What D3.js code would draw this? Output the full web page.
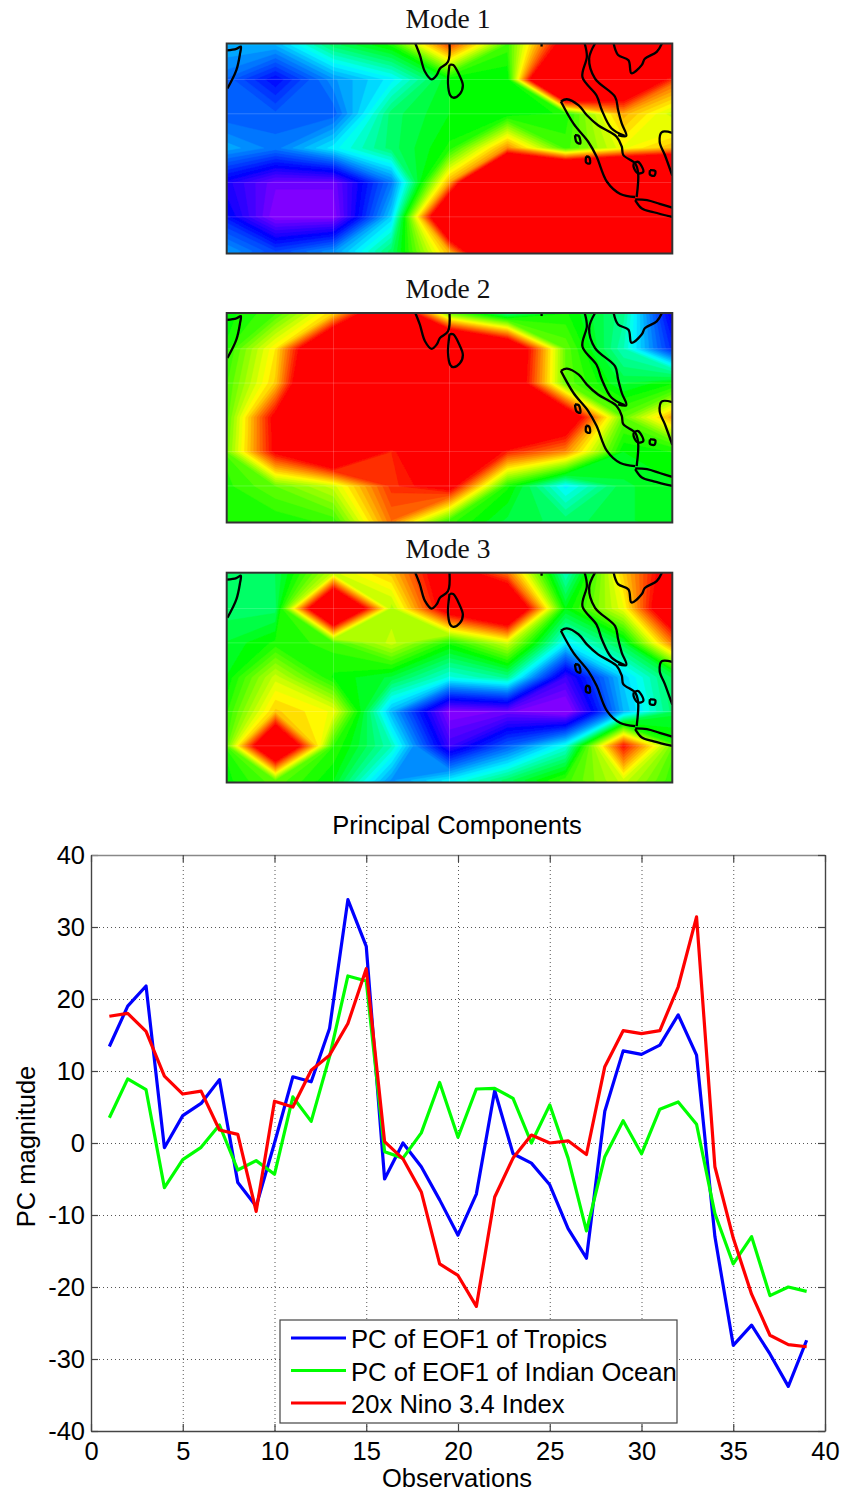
<!DOCTYPE html>
<html>
<head>
<meta charset="utf-8">
<script src="https://cdn.jsdelivr.net/npm/d3@7/dist/d3.min.js"></script>
<style>
    html, body { margin: 0; padding: 0; background: #fff; }
    svg { display: block; }
    .tick-text text, .axis-label { font-family: "Liberation Sans", sans-serif; fill: #000; }
</style>
</head>
<body>
<svg id="chart" width="841" height="1493"></svg>
<script>
// EOF maps: 9 longitudes x 7 latitudes
const gridLons = [48.75, 56.56, 64.38, 72.19, 80, 87.81, 95.63, 103.44, 111.25];
const gridLats = [12.3, 7.8, 3.3, -1.2, -5.7, -10.2, -14.7];

const mode1 = [
    [-0.4, -0.4, -0.1, 0.05, 0.65, 0.1, 0.9, 1.2, 1.2],
    [-0.5, -0.72, -0.45, -0.3, 0, 0, 2, 1.2, 0.6],
    [-0.55, -0.55, -0.55, -0.1, 0, 0, 0.05, 0.5, 0.25],
    [-0.4, -0.5, -0.3, -0.1, 0.05, 0.55, 0.1, 0.35, 0.5],
    [-0.75, -0.95, -0.95, -0.5, 0.51, 2, 2, 2, 2],
    [-0.65, -1, -1, -0.35, 1.3, 2, 2, 2, 2],
    [-0.4, -0.6, -0.45, -0.1, 0.5, 1.5, 1.5, 1.5, 1.5]
];
const mode2 = [
    [0, 0.12, 0.45, 1.2, 0.2, -0.1, 0.05, -0.15, -0.9],
    [0, 0.4, 1.3, 1.5, 1.5, 1.1, 0.15, -0.2, -0.75],
    [0.05, 0.45, 1.5, 1.5, 1.5, 1.05, 0.15, -0.05, 0.05],
    [0, 0.82, 1.5, 1.5, 1.5, 1.5, 1, 0.15, 0.58],
    [0.05, 0.8, 1.2, 0.72, 1.2, 0.72, 0.55, 0, 0.05],
    [0.05, 0.16, 0.3, 0.7, 0.85, 0.05, -0.3, -0.05, 0],
    [0.05, 0.05, 0.1, 0.6, 0.1, -0.05, -0.1, -0.05, 0]
];
const mode3 = [
    [-0.1, -0.08, 0.3, 0.45, 0.95, 0.6, -0.2, 0.45, 1],
    [-0.1, -0.1, 1.4, 0.25, 0.9, 1.2, 0, 0.35, 1.2],
    [-0.05, 0.05, 0.1, 0.3, 0.05, 0.3, -0.3, -0.05, 0.7],
    [-0.05, 0.3, 0.03, -0.05, -0.25, -0.15, -0.85, -0.35, -0.02],
    [0, 0.45, 0.35, -0.4, -1, -0.95, -1.05, -0.4, -0.05],
    [-0.08, 1.26, 0.08, -0.2, -0.85, -0.55, -0.25, 0.75, 0.05],
    [0, 0.15, 0, -0.45, -0.3, -0.1, 0.1, 0.3, 0.05]
];
const modeNames = ["Mode 1", "Mode 2", "Mode 3"];

// coastlines as [lon, lat]
const coastLines = [
    [[50, 11.6], [51.3, 11.8], [51.9, 12.1], [51.8, 11.2], [51.3, 9], [50.1, 6.6]],
    [[75.4, 12.5], [76, 11], [76.7, 8.8], [77.6, 7.8], [78.3, 8.4], [78.7, 9.2], [79.8, 10.1], [80, 12.5]],
    [[80, 9.7], [80.5, 9.7], [81.3, 8.4], [81.8, 7], [81.4, 5.9], [80.5, 5.4], [80.1, 5.7], [79.8, 7.3], [80, 9.7]],
    [[92.4, 12.5], [92.4, 12.1]],
    [[98.2, 12.5], [98.5, 10.8], [97.9, 8.1], [99.8, 5.7], [100.5, 3.8], [101.8, 1.4], [103.6, 0.4]],
    [[99.6, 12.5], [98.8, 10.5], [99.6, 7.9], [102.3, 5.5], [102.7, 3.8], [103.2, 2], [103.8, 0.4], [102.7, 0.5]],
    [[102.1, 12.5], [102.7, 11], [104.1, 10.3], [104.5, 8.6], [105.9, 9.7], [106.3, 10.5], [107.9, 11.4], [108.6, 12.5]],
    [[95, 4.9], [95.8, 5.2], [97.4, 4.4], [98.5, 3.1], [100, 1.8], [101.6, 0.9], [102.5, 0.3], [103.2, -1], [103.4, -2.1], [105, -3.2], [105.4, -4.5], [105.2, -7.6]],
    [[105, -7.6], [103, -7.2], [101.2, -5.6], [99.8, -2.3], [98.7, -0.4], [96.7, 2], [95, 4.9]],
    [[104.8, -3.2], [105.4, -3], [106.1, -4.3], [105.4, -4.5], [104.8, -3.7], [104.8, -3.2]],
    [[107, -4.1], [107.7, -4.2], [107.6, -4.8], [107, -4.7], [107, -4.1]],
    [[105, -7.9], [106.6, -8], [108.3, -8.5], [110, -9]],
    [[105, -8], [105.9, -9.1], [107.5, -9.6], [110, -10.2]],
    [[110, 0.8], [108.6, 0.9], [108.3, -0.4], [109, -2.1], [110, -4.8]],
    [[96.9, 0.5], [97.4, 0.4], [97.6, -0.6], [97.1, -0.4], [96.9, 0.5]],
    [[98.4, -2.3], [98.8, -2.4], [98.9, -3.2], [98.4, -3.1], [98.4, -2.3]]
];

// principal components
const observations = d3.range(1, 40);
const pcTropics = [13.4, 19, 21.8, -0.65, 3.8, 5.5, 8.8, -5.5, -8.8, 0, 9.2, 8.5, 15.9, 33.8, 27.3, -5, 0, -3.3, -7.9, -12.8,
    -7.1, 7.3, -1.5, -2.8, -5.8, -11.9, -16, 4.4, 12.8, 12.3, 13.6, 17.8, 12.2, -13, -28.1, -25.3, -29.3, -33.8, -27.4];
const pcIndian = [3.5, 8.9, 7.4, -6.2, -2.3, -0.6, 2.5, -3.75, -2.45, -4.35, 6.4, 3, 12, 23.2, 22.5, -1.2, -2.1, 1.4, 8.4, 0.8,
    7.5, 7.6, 6.2, 0, 5.3, -2.1, -12.2, -1.9, 3.1, -1.5, 4.7, 5.7, 2.6, -9.8, -16.8, -13, -21.2, -20, -20.6];
const nino34 = [17.6, 18, 15.5, 9.3, 6.8, 7.2, 1.8, 1.2, -9.5, 5.8, 5, 10.1, 12.2, 16.6, 24.2, 0.2, -2.2, -6.8, -16.8, -18.4,
    -22.7, -7.5, -2.1, 1.1, 0, 0.3, -1.6, 10.6, 15.6, 15.2, 15.6, 21.7, 31.4, -3.3, -13.2, -21, -26.7, -28, -28.3];
const seriesNames = ["PC of EOF1 of Tropics", "PC of EOF1 of Indian Ocean", "20x Nino 3.4 Index"];
const seriesColors = ["#0000ff", "#00ff00", "#ff0000"];
const xTicks = d3.range(0, 41, 5);
const yTicks = d3.range(-40, 41, 10);

const svg = d3.select("#chart");

// the scanned maps are a little soft
const soft = svg.append("defs").append("filter").attr("id", "soft");
soft.append("feGaussianBlur").attr("stdDeviation", 0.5);

const color = d3.scaleLinear()
    .domain([-1, -0.75, -0.5, -0.3, 0, 0.35, 0.75])
    .range(["#8000ff", "#0000ff", "#0080ff", "#00ffff", "#00ff00", "#ffff00", "#ff0000"])
    .clamp(true);
const levels = d3.range(-1.12, 0.8, 0.04);

const mapLeft = 226.7, mapRight = 672.3;
const lon = d3.scaleLinear().domain([50, 110]).range([mapLeft, mapRight]);

const drawMode = (grid, label, i, mapTop, mapBottom, titleY) => {
    const lat = d3.scaleLinear().domain([12.5, -15]).range([mapTop, mapBottom]);
    // d3.contours puts each value at the centre of its cell
    const gx = d3.scaleLinear().domain([0.5, 8.5]).range([lon(gridLons[0]), lon(gridLons[8])]);
    const gy = d3.scaleLinear().domain([0.5, 6.5]).range([lat(gridLats[0]), lat(gridLats[6])]);
    const path = d3.geoPath(d3.geoTransform({
        point(px, py) { this.stream.point(gx(px), gy(py)); }
    }));
    const contours = d3.contours().size([9, 7]).thresholds(levels)(grid.flat());

    const clipId = "clip-" + i;
    svg.append("clipPath").attr("id", clipId)
        .append("rect")
        .attr("x", mapLeft).attr("y", mapTop)
        .attr("width", mapRight - mapLeft).attr("height", mapBottom - mapTop);

    const clipped = svg.append("g").attr("clip-path", `url(#${clipId})`);
    const g = clipped.append("g").attr("filter", "url(#soft)");
    g.append("rect")
        .attr("x", mapLeft - 5).attr("y", mapTop - 5)
        .attr("width", mapRight - mapLeft + 10).attr("height", mapBottom - mapTop + 10)
        .attr("fill", color(levels[0]));
    g.selectAll("path.band")
        .data(contours)
        .join("path")
        .attr("class", "band")
        .attr("d", path)
        .attr("fill", d => color(d.value))
        .attr("stroke", d => color(d.value))
        .attr("stroke-width", 0.5);

    // faint seams between patches
    g.selectAll("line.seam-v")
        .data([gridLons[2], gridLons[4]])
        .join("line")
        .attr("class", "seam-v")
        .attr("x1", d => lon(d)).attr("x2", d => lon(d))
        .attr("y1", mapTop).attr("y2", mapBottom)
        .attr("stroke", "#fff").attr("stroke-opacity", 0.18);
    g.selectAll("line.seam-h")
        .data([gridLats[1], gridLats[2], gridLats[4], gridLats[5]])
        .join("line")
        .attr("class", "seam-h")
        .attr("x1", mapLeft).attr("x2", mapRight)
        .attr("y1", d => lat(d)).attr("y2", d => lat(d))
        .attr("stroke", "#fff").attr("stroke-opacity", 0.18);

    const coast = d3.line().curve(d3.curveCatmullRom.alpha(0.5)).x(d => lon(d[0])).y(d => lat(d[1]));
    g.selectAll("path.coast")
        .data(coastLines)
        .join("path")
        .attr("class", "coast")
        .attr("d", coast)
        .attr("fill", "none")
        .attr("stroke", "#000")
        .attr("stroke-width", 2.3)
        .attr("stroke-linejoin", "round");

    svg.append("rect")
        .attr("x", mapLeft).attr("y", mapTop)
        .attr("width", mapRight - mapLeft).attr("height", mapBottom - mapTop)
        .attr("fill", "none")
        .attr("stroke", "#333")
        .attr("stroke-width", 2);

    svg.append("text")
        .attr("x", 448).attr("y", titleY)
        .attr("text-anchor", "middle")
        .style("font-family", '"Liberation Serif", serif')
        .style("font-size", "27.5px")
        .attr("fill", "#111")
        .text(label);
};

drawMode(mode1, modeNames[0], 0, 43.5, 253.5, 28);
drawMode(mode2, modeNames[1], 1, 313, 522.5, 298);
drawMode(mode3, modeNames[2], 2, 572.7, 782.5, 558);

// line chart
const plotLeft = 91, plotRight = 825, plotTop = 855, plotBottom = 1431;
const x = d3.scaleLinear().domain([0, 40]).range([plotLeft, plotRight]);
const y = d3.scaleLinear().domain([-40, 40]).range([plotBottom, plotTop]);
const plotW = plotRight - plotLeft, plotH = plotBottom - plotTop;
const plainNumber = d => String(d);

// dotted grid
const gridX = svg.append("g")
    .attr("transform", `translate(0,${plotBottom})`)
    .call(d3.axisBottom(x).tickValues(xTicks.slice(1, -1)).tickSize(-plotH).tickFormat(""));
const gridY = svg.append("g")
    .attr("transform", `translate(${plotLeft},0)`)
    .call(d3.axisLeft(y).tickValues(yTicks.slice(1, -1)).tickSize(-plotW).tickFormat(""));
[gridX, gridY].forEach(g => {
    g.select(".domain").remove();
    g.selectAll("line").attr("stroke", "#555").attr("stroke-dasharray", "1,3");
});

const bottomAxis = svg.append("g")
    .attr("class", "tick-text")
    .attr("transform", `translate(0,${plotBottom})`)
    .call(d3.axisBottom(x).tickValues(xTicks).tickSizeInner(-7).tickSizeOuter(0).tickPadding(11).tickFormat(plainNumber));
const leftAxis = svg.append("g")
    .attr("class", "tick-text")
    .attr("transform", `translate(${plotLeft},0)`)
    .call(d3.axisLeft(y).tickValues(yTicks).tickSizeInner(-7).tickSizeOuter(0).tickPadding(6).tickFormat(plainNumber));
const topAxis = svg.append("g")
    .attr("transform", `translate(0,${plotTop})`)
    .call(d3.axisTop(x).tickValues(xTicks).tickSizeInner(-7).tickSizeOuter(0).tickFormat(""));
const rightAxis = svg.append("g")
    .attr("transform", `translate(${plotRight},0)`)
    .call(d3.axisRight(y).tickValues(yTicks).tickSizeInner(-7).tickSizeOuter(0).tickFormat(""));
[bottomAxis, leftAxis, topAxis, rightAxis].forEach(g => {
    g.selectAll(".domain").attr("stroke", "#444").attr("stroke-width", 1.4);
    g.selectAll("line").attr("stroke", "#444").attr("stroke-width", 1.2);
    g.selectAll("text").style("font-size", "25.5px").style("font-family", '"Liberation Sans", sans-serif').attr("fill", "#000");
});
topAxis.select(".domain").attr("stroke", "#888");

const line = d3.line().x((d, i) => x(observations[i])).y(d => y(d));
svg.selectAll("path.series")
    .data([pcTropics, pcIndian, nino34])
    .join("path")
    .attr("class", "series")
    .attr("d", line)
    .attr("fill", "none")
    .attr("stroke", (d, i) => seriesColors[i])
    .attr("stroke-width", 3.2)
    .attr("stroke-linejoin", "round");

// labels
svg.append("text").attr("class", "axis-label")
    .attr("x", 457).attr("y", 834)
    .attr("text-anchor", "middle")
    .style("font-size", "25.5px")
    .text("Principal Components");
svg.append("text").attr("class", "axis-label")
    .attr("x", 457).attr("y", 1487)
    .attr("text-anchor", "middle")
    .style("font-size", "25.5px")
    .text("Observations");
svg.append("text").attr("class", "axis-label")
    .attr("transform", "translate(35,1146.5) rotate(-90)")
    .attr("text-anchor", "middle")
    .style("font-size", "25.5px")
    .text("PC magnitude");

// legend
const legendX = 280, legendY = 1320, legendRows = [18, 50.5, 83];
const legend = svg.append("g").attr("transform", `translate(${legendX},${legendY})`);
legend.append("rect")
    .attr("width", 397).attr("height", 103)
    .attr("fill", "#fff").attr("stroke", "#444").attr("stroke-width", 1.2);
seriesNames.forEach((label, i) => {
    legend.append("line")
        .attr("x1", 11).attr("x2", 66)
        .attr("y1", legendRows[i]).attr("y2", legendRows[i])
        .attr("stroke", seriesColors[i]).attr("stroke-width", 3.2);
    legend.append("text").attr("class", "axis-label")
        .attr("x", 71).attr("y", legendRows[i] + 10)
        .style("font-size", "25.6px")
        .text(label);
});
</script>
</body>
</html>
